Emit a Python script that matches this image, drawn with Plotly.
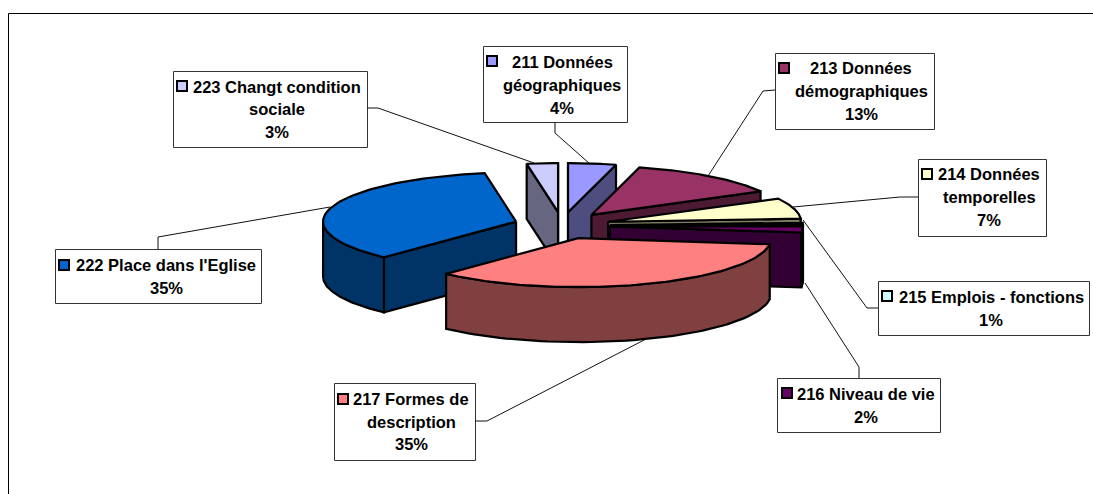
import numpy as np
import plotly.graph_objects as go

# ---- data (clockwise from 12 o'clock)
codes = ["211", "213", "214", "215", "216", "217", "222", "223"]
shares = [4, 13, 7, 1, 2, 35, 35.4, 2.6]
label_lines = [
    ["211 Données", "géographiques", "4%"],
    ["213 Données", "démographiques", "13%"],
    ["214 Données", "temporelles", "7%"],
    ["215 Emplois - fonctions", "1%"],
    ["216 Niveau de vie", "2%"],
    ["217 Formes de", "description", "35%"],
    ["222 Place dans l'Eglise", "35%"],
    ["223 Changt condition", "sociale", "3%"],
]

# ---- style
top_colors = ["#9999FF", "#993366", "#FFFFCC", "#CCFFFF", "#660066", "#FF8080", "#0066CC", "#CCCCFF"]
side_colors = ["#4D4D80", "#4D1A33", "#808066", "#668080", "#330033", "#804040", "#003366", "#666680"]
paint_order = [7, 0, 1, 2, 3, 4, 6, 5]

# ---- layout of the projected pie (pixels of the page)
CX, CY = 562.0, 225.5
RX, RY = 193.0, 49.0
EX, EY = 48.0, 13.4
H = 55.0
EDGE = 2.2

# ---- layout of the callouts: box (x0,y0,x1,y1), text centre x, line centre ys, key (x,y), leader
boxes = [(483, 46, 627, 122), (775, 53, 934, 129), (918, 159, 1046, 236), (878, 281, 1089, 335),
         (777, 378, 940, 432), (334, 383, 475, 460), (55, 249, 261, 303), (173, 71, 367, 147)]
text_x = [562, 861, 989, 991, 866, 411, 166, 277]
text_y = [[62, 85, 108], [68, 91, 114], [174, 197, 220], [297, 320],
          [394, 417], [399, 422, 444], [265, 288], [87, 109, 132]]
keys = [(492, 61), (784, 68), (927, 174), (887, 296), (787, 393), (343, 399), (64, 265), (182, 86)]
leaders = [
    [(555, 122), (555, 133), (590, 164)],
    [(775, 90), (763, 91), (708, 176)],
    [(918, 197), (900, 197), (793, 207)],
    [(878, 308), (867, 308), (803, 220)],
    [(859, 378), (859, 367), (805, 283)],
    [(475, 421), (487, 421), (648, 338)],
    [(158, 249), (158, 237), (330, 207)],
    [(367, 108), (378, 108), (534, 163)],
]

fig = go.Figure()


def poly(xs, ys, fill):
    fig.add_trace(go.Scatter(x=list(xs), y=list(ys), mode="lines", fill="toself", fillcolor=fill,
                             line=dict(color="black", width=EDGE), hoverinfo="skip", showlegend=False))


# leaders
for pts in leaders:
    fig.add_trace(go.Scatter(x=[p[0] for p in pts], y=[p[1] for p in pts], mode="lines",
                             line=dict(color="#111111", width=1), hoverinfo="skip", showlegend=False))

# wedge angles from the values
edges = np.radians(np.concatenate([[0], np.cumsum(shares)]) * 3.6)


def rim(t, ax, ay):
    return ax + RX * np.sin(t), ay - RY * np.cos(t)


for i in paint_order:
    a, b = edges[i], edges[i + 1]
    m = (a + b) / 2
    ax, ay = CX + EX * np.sin(m), CY - EY * np.cos(m)

    # cut faces, only when they look towards the viewer
    for t, normal in ((a, a - np.pi / 2), (b, b + np.pi / 2)):
        if np.cos(normal) < 1e-6:
            px, py = rim(t, ax, ay)
            poly([ax, px, px, ax, ax], [ay, py, py + H, ay + H, ay], side_colors[i])

    # outer wall, front half only
    lo, hi = max(a, np.pi / 2), min(b, 3 * np.pi / 2)
    if hi > lo:
        t = np.linspace(lo, hi, 60)
        wx, wy = rim(t, ax, ay)
        poly(np.concatenate([wx, wx[::-1], wx[:1]]),
             np.concatenate([wy, wy[::-1] + H, wy[:1]]), side_colors[i])

    # top face
    t = np.linspace(a, b, 80)
    tx, ty = rim(t, ax, ay)
    poly(np.concatenate([[ax], tx, [ax]]), np.concatenate([[ay], ty, [ay]]), top_colors[i])

shapes = [
    dict(type="line", xref="x", yref="y", x0=8.5, y0=13.5, x1=1093, y1=13.5, line=dict(color="black", width=1)),
    dict(type="line", xref="x", yref="y", x0=8.5, y0=13.5, x1=8.5, y1=494, line=dict(color="black", width=1)),
]
annotations = []
for i in range(len(codes)):
    x0, y0, x1, y1 = boxes[i]
    shapes.append(dict(type="rect", xref="x", yref="y", x0=x0 + .5, y0=y0 + .5, x1=x1 + .5, y1=y1 + .5,
                       fillcolor="white", line=dict(color="#333333", width=1), layer="below"))
    for line, yy in zip(label_lines[i], text_y[i]):
        annotations.append(dict(x=text_x[i], y=yy, xref="x", yref="y", text="<b>" + line + "</b>", showarrow=False,
                                xanchor="center", yanchor="middle",
                                font=dict(family="Liberation Sans", size=16.5, color="black")))

fig.add_trace(go.Scatter(x=[k[0] for k in keys], y=[k[1] for k in keys], mode="markers",
                         marker=dict(symbol="square", size=10, color=top_colors, line=dict(color="black", width=2)),
                         hoverinfo="skip", showlegend=False))

ax_common = dict(visible=False, fixedrange=True)
fig.update_layout(
    width=1093, height=494, margin=dict(l=0, r=0, t=0, b=0),
    paper_bgcolor="white", plot_bgcolor="white",
    xaxis=dict(range=[0, 1093], **ax_common),
    yaxis=dict(range=[494, 0], **ax_common),
    shapes=shapes, annotations=annotations,
)
fig.write_html("out.html", config=dict(displayModeBar=False),
               post_script="document.body.style.margin='0';document.body.style.overflow='hidden';")
